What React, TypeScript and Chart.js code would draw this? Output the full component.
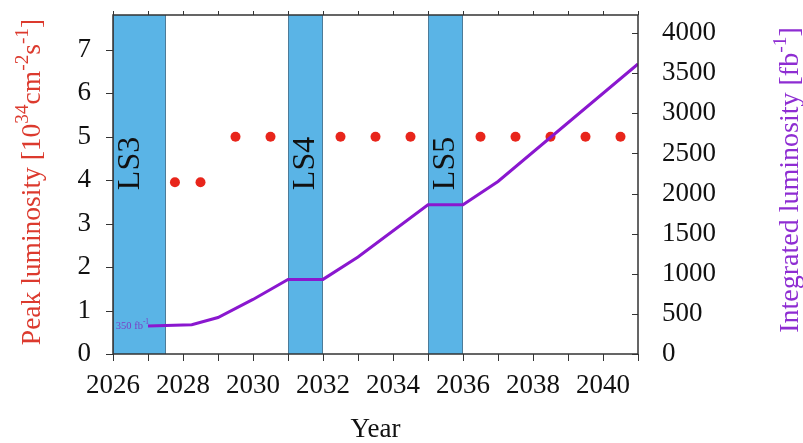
import React, { useEffect, useRef } from 'react';
import { Chart, registerables } from 'chart.js';
Chart.register(...registerables);

// ---- data ----
const peakYears = [2027.77, 2028.5, 2029.5, 2030.5, 2032.5, 2033.5, 2034.5, 2036.5, 2037.5, 2038.5, 2039.5, 2040.5];
const peakValues = [3.95, 3.95, 5, 5, 5, 5, 5, 5, 5, 5, 5, 5];

const intYears = [2027, 2028.25, 2029, 2030, 2031, 2032, 2033, 2035, 2036, 2037, 2041];
const intValues = [350, 365, 455, 680, 930, 930, 1210, 1860, 1860, 2150, 3615];

const bandStart = [2026, 2031, 2035];
const bandEnd = [2027.5, 2032, 2036];
const bandLabels = ['LS3', 'LS4', 'LS5'];
const bandLabelYear = [2026.5, 2031.5, 2035.5];
const bandLabelPeak = 3.77;

const startAnnotationYear = 2027;
const startAnnotationValue = 350;

const xTicks = [2026, 2027, 2028, 2029, 2030, 2031, 2032, 2033, 2034, 2035, 2036, 2037, 2038, 2039, 2040, 2041];
const yTicks = [0, 1, 2, 3, 4, 5, 6, 7];
const y2Ticks = [0, 500, 1000, 1500, 2000, 2500, 3000, 3500, 4000];

const xMin = 2026;
const xMax = 2041;
const yMax = 7.8;
const y2Max = 4225;

const FONT = '"Liberation Serif", "Times New Roman", serif';

type Seg = { t: string; sup?: boolean };

function drawRich(ctx: CanvasRenderingContext2D, segs: Seg[], cx: number, cy: number, size: number, color: string, rotate: boolean, align: 'center' | 'right' = 'center') {
  ctx.save();
  ctx.translate(cx, cy);
  if (rotate) ctx.rotate(-Math.PI / 2);
  let total = 0;
  const widths = segs.map((s) => {
    ctx.font = `${s.sup ? size * 0.7 : size}px ${FONT}`;
    const w = ctx.measureText(s.t).width;
    total += w;
    return w;
  });
  let x = align === 'center' ? -total / 2 : -total;
  ctx.fillStyle = color;
  ctx.textBaseline = 'middle';
  ctx.textAlign = 'left';
  segs.forEach((s, i) => {
    ctx.font = `${s.sup ? size * 0.7 : size}px ${FONT}`;
    ctx.fillText(s.t, x, s.sup ? -size * 0.38 : 0);
    x += widths[i];
  });
  ctx.restore();
}

const decorPlugin = {
  id: 'decor',
  beforeDatasetsDraw(chart: any) {
    const { ctx, chartArea, scales } = chart;
    const { top, bottom } = chartArea;
    const x = scales.x;
    const y = scales.y;
    ctx.save();
    bandStart.forEach((s, i) => {
      const x0 = x.getPixelForValue(s);
      const x1 = x.getPixelForValue(bandEnd[i]);
      ctx.fillStyle = '#5ab4e6';
      ctx.fillRect(x0, top, x1 - x0, bottom - top);
      ctx.strokeStyle = '#4d7b98';
      ctx.lineWidth = 1;
      ctx.beginPath();
      ctx.moveTo(Math.round(x0) + 0.5, top);
      ctx.lineTo(Math.round(x0) + 0.5, bottom);
      ctx.moveTo(Math.round(x1) - 0.5, top);
      ctx.lineTo(Math.round(x1) - 0.5, bottom);
      ctx.stroke();
    });
    bandLabels.forEach((lab, i) => {
      const lx = x.getPixelForValue(bandLabelYear[i]);
      const ly = y.getPixelForValue(bandLabelPeak);
      ctx.save();
      ctx.translate(lx, ly);
      ctx.rotate(-Math.PI / 2);
      ctx.font = `32px ${FONT}`;
      ctx.fillStyle = '#111';
      ctx.textAlign = 'left';
      ctx.textBaseline = 'middle';
      ctx.fillText(lab, 0, 0);
      ctx.restore();
    });
    ctx.restore();
  },
  afterDraw(chart: any) {
    const { ctx, chartArea, scales } = chart;
    const { left, right, top, bottom } = chartArea;
    const x = scales.x;
    const y = scales.y;
    const y2 = scales.y2;
    ctx.save();
    ctx.strokeStyle = '#333';
    ctx.lineWidth = 1;
    ctx.beginPath();
    x.ticks.forEach((t: any) => {
      const px = Math.round(x.getPixelForValue(t.value)) + 0.5;
      ctx.moveTo(px, bottom);
      ctx.lineTo(px, bottom + 7);
      ctx.moveTo(px, top);
      ctx.lineTo(px, top - 4);
    });
    y.ticks.forEach((t: any) => {
      const py = Math.round(y.getPixelForValue(t.value)) + 0.5;
      ctx.moveTo(left - 7, py);
      ctx.lineTo(left, py);
    });
    y2.ticks.forEach((t: any) => {
      const py = Math.round(y2.getPixelForValue(t.value)) + 0.5;
      ctx.moveTo(right - 6, py);
      ctx.lineTo(right, py);
    });
    ctx.stroke();
    ctx.lineWidth = 1.5;
    ctx.strokeRect(left, top, right - left, bottom - top);

    // annotation 350 fb^-1
    const ax = x.getPixelForValue(startAnnotationYear);
    const ay = y2.getPixelForValue(startAnnotationValue);
    drawRich(ctx, [{ t: '350 fb' }, { t: '-1', sup: true }], ax + 1, ay, 10.5, '#7a3fc4', false, 'right');

    // axis titles
    drawRich(ctx, [{ t: 'Year' }], (left + right) / 2, 430, 27, '#111', false);
    drawRich(
      ctx,
      [{ t: 'Peak luminosity [10' }, { t: '34', sup: true }, { t: 'cm' }, { t: '-2', sup: true }, { t: 's' }, { t: '-1', sup: true }, { t: ']' }],
      33, 182, 27.5, '#dc3a2e', true
    );
    drawRich(
      ctx,
      [{ t: 'Integrated luminosity [fb' }, { t: '-1', sup: true }, { t: ']' }],
      791, 180, 28, '#8e2dd2', true
    );
    ctx.restore();
  },
};

const zeroPad = (s: any) => {
  s.paddingTop = 0;
  s.paddingBottom = 0;
  s.paddingLeft = 0;
  s.paddingRight = 0;
};

export default function App() {
  const ref = useRef<HTMLCanvasElement | null>(null);
  useEffect(() => {
    document.body.style.margin = '0';
    if (!ref.current) return;
    const tickFont = { family: FONT, size: 27 };
    const chart = new Chart(ref.current, {
      type: 'scatter',
      data: {
        datasets: [
          {
            type: 'line',
            label: 'Integrated luminosity',
            data: intYears.map((yr, i) => ({ x: yr, y: intValues[i] })),
            yAxisID: 'y2',
            borderColor: '#8a17cf',
            borderWidth: 3,
            pointRadius: 0,
            fill: false,
            tension: 0,
            order: 0,
          } as any,
          {
            type: 'scatter',
            label: 'Peak luminosity',
            data: peakYears.map((yr, i) => ({ x: yr, y: peakValues[i] })),
            yAxisID: 'y',
            backgroundColor: '#e8251b',
            borderWidth: 0,
            pointRadius: 5,
            order: 1,
          } as any,
        ],
      },
      options: {
        animation: false,
        responsive: false,
        devicePixelRatio: 1,
        layout: { padding: { top: 15, left: 0, right: 0, bottom: 0 } },
        plugins: { legend: { display: false }, tooltip: { enabled: false } },
        scales: {
          x: {
            type: 'linear',
            position: 'bottom',
            min: xMin,
            max: xMax,
            afterBuildTicks: (s: any) => { s.ticks = xTicks.map((v) => ({ value: v })); },
            ticks: {
              autoSkip: false,
              maxRotation: 0,
              minRotation: 0,
              padding: 16,
              color: '#111',
              font: tickFont,
              callback: (v: any) => (Number(v) % 2 === 0 ? String(v) : ''),
            },
            grid: { display: false, drawTicks: false },
            border: { display: false },
            afterFit: (s: any) => { s.height = 89; zeroPad(s); },
          },
          y: {
            type: 'linear',
            position: 'left',
            min: 0,
            max: yMax,
            afterBuildTicks: (s: any) => { s.ticks = yTicks.map((v) => ({ value: v })); },
            ticks: {
              autoSkip: false,
              padding: 22,
              color: '#111',
              font: tickFont,
              callback: (v: any) => String(v),
            },
            grid: { display: false, drawTicks: false },
            border: { display: false },
            afterFit: (s: any) => { s.width = 113; zeroPad(s); },
          },
          y2: {
            type: 'linear',
            position: 'right',
            min: 0,
            max: y2Max,
            afterBuildTicks: (s: any) => { s.ticks = y2Ticks.map((v) => ({ value: v })); },
            ticks: {
              autoSkip: false,
              padding: 24,
              color: '#111',
              font: tickFont,
              callback: (v: any) => String(v),
            },
            grid: { display: false, drawTicks: false },
            border: { display: false },
            afterFit: (s: any) => { s.width = 165; zeroPad(s); },
          },
        },
      } as any,
      plugins: [decorPlugin],
    });
    return () => chart.destroy();
  }, []);
  return (
    <div style={{ position: 'relative', width: 803, height: 443 }}>
      <canvas ref={ref} width={803} height={443} style={{ display: 'block' }} />
    </div>
  );
}
